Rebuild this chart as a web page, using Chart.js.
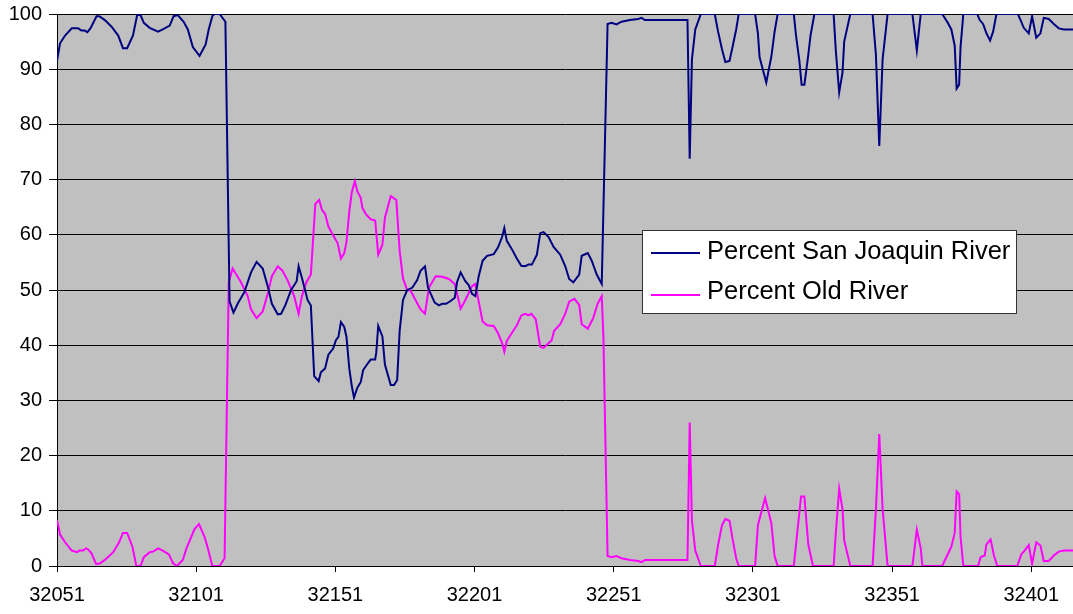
<!DOCTYPE html>
<html>
<head>
<meta charset="utf-8">
<script src="https://cdn.jsdelivr.net/npm/chart.js@4.4.1/dist/chart.umd.min.js"></script>
<style>
  html, body { margin: 0; padding: 0; background: #fff; }
  canvas { display: block; }
</style>
</head>
<body>
<canvas id="flowChart" width="1073" height="614"></canvas>
<script>
// tick values on the x axis (day numbers)
const xTicks = [32051, 32101, 32151, 32201, 32251, 32301, 32351, 32401];

// Percent San Joaquin River - days and values
const sjDays = [
  32051.0, 32052.1, 32053.9, 32056.3, 32058.6, 32059.8, 32061.0, 32061.9, 32063.0, 32065.2,
  32066.2, 32068.2, 32070.6, 32073.0, 32074.7, 32076.2, 32078.3, 32079.8, 32081.0, 32082.2,
  32084.3, 32087.3, 32089.0, 32091.5, 32092.9, 32094.4, 32096.5, 32098.0, 32099.8, 32102.2,
  32104.4, 32105.5, 32106.8, 32107.5, 32109.4, 32111.5, 32113.0, 32114.4, 32115.9, 32118.3,
  32120.7, 32122.7, 32124.9, 32126.7, 32128.2, 32130.3, 32131.5, 32133.0, 32135.1, 32137.1,
  32137.8, 32139.2, 32141.0, 32142.2, 32143.4, 32145.0, 32145.8, 32147.3, 32148.5, 32150.2,
  32151.2, 32152.1, 32153.0, 32154.2, 32155.0, 32156.0, 32156.9, 32157.7, 32158.9, 32160.1,
  32161.0, 32162.5, 32163.7, 32165.3, 32165.7, 32166.4, 32167.9, 32168.8, 32170.9, 32172.1,
  32173.2, 32174.1, 32175.3, 32176.8, 32178.6, 32180.4, 32181.6, 32183.2, 32184.3, 32186.7,
  32188.2, 32189.4, 32190.8, 32192.4, 32193.9, 32194.7, 32196.0, 32197.7, 32198.9, 32200.1,
  32201.3, 32202.5, 32203.9, 32205.5, 32207.9, 32209.4, 32210.9, 32211.7, 32212.6, 32214.4,
  32216.2, 32217.8, 32219.2, 32220.4, 32221.6, 32223.4, 32224.6, 32225.8, 32227.6, 32229.4,
  32231.8, 32233.6, 32235.0, 32236.5, 32238.6, 32239.5, 32241.7, 32243.1, 32244.9, 32246.7,
  32248.8, 32250.2, 32252.0, 32253.8, 32256.8, 32259.8, 32261.0, 32262.2, 32277.5, 32278.3,
  32279.1, 32280.3, 32282.3, 32287.3, 32288.5, 32289.9, 32291.1, 32292.6, 32293.8, 32295.0,
  32295.9, 32301.8, 32302.8, 32303.4, 32305.8, 32307.6, 32308.8, 32309.9, 32315.7, 32316.5,
  32317.7, 32318.5, 32319.5, 32320.9, 32321.7, 32323.1, 32330.0, 32330.8, 32332.0, 32333.2,
  32333.8, 32336.0, 32344.0, 32345.2, 32346.4, 32347.6, 32349.4, 32358.3, 32359.9, 32361.3,
  32369.0, 32370.8, 32372.3, 32373.5, 32374.2, 32375.1, 32375.6, 32376.6, 32381.6, 32382.5,
  32383.7, 32384.9, 32386.2, 32387.3, 32388.5, 32396.2, 32397.4, 32398.3, 32400.1, 32401.3,
  32402.8, 32404.3, 32405.5, 32407.3, 32409.1, 32410.9, 32412.7, 32416.0
];
const sjPct = [
  91.5, 94.7, 96.1, 97.4, 97.4, 97.0, 97.0, 96.7, 97.4, 99.6,
  99.6, 98.9, 97.7, 96.1, 93.8, 93.8, 96.1, 99.8, 99.8, 98.4,
  97.5, 96.8, 97.2, 97.9, 99.6, 99.8, 98.6, 97.2, 94.0, 92.4,
  94.5, 97.2, 99.6, 100, 100, 98.6, 47.9, 45.9, 47.5, 49.6,
  53.2, 55.1, 53.9, 50.7, 47.5, 45.6, 45.7, 47.2, 50.0, 51.6,
  54.3, 51.8, 48.2, 47.2, 34.4, 33.5, 35.1, 35.8, 38.3, 39.4,
  40.9, 41.5, 44.2, 43.3, 41.5, 35.8, 32.6, 30.5, 32.3, 33.3,
  35.5, 36.6, 37.4, 37.4, 38.7, 43.5, 41.6, 36.5, 32.8, 32.8,
  33.7, 42.6, 48.2, 50.0, 50.4, 51.8, 53.5, 54.3, 50.4, 47.7,
  47.2, 47.5, 47.5, 48.0, 48.6, 51.4, 53.2, 51.6, 50.9, 49.3,
  48.9, 52.5, 55.3, 56.2, 56.5, 57.7, 59.6, 61.2, 58.9, 57.4,
  55.7, 54.4, 54.3, 54.6, 54.6, 56.4, 60.3, 60.5, 59.6, 57.8,
  56.4, 54.3, 52.0, 51.4, 52.8, 56.2, 56.7, 55.3, 52.8, 51.1,
  98.2, 98.4, 98.1, 98.6, 98.9, 99.1, 99.3, 98.9, 98.9, 73.8,
  91.8, 97.2, 100, 100, 96.8, 93.6, 91.3, 91.5, 94.3, 97.2,
  100, 100, 96.5, 92.2, 87.6, 92.2, 96.8, 100, 100, 96.1,
  91.5, 87.2, 87.2, 92.6, 96.1, 100, 100, 93.3, 85.8, 89.4,
  95.0, 100, 100, 92.6, 76.1, 91.8, 100, 100, 93.4, 100,
  100, 98.6, 97.2, 94.3, 86.5, 87.2, 94.0, 100, 100, 98.9,
  98.2, 96.5, 95.2, 96.8, 100, 100, 98.6, 97.5, 96.5, 99.6,
  95.7, 96.5, 99.3, 99.1, 98.2, 97.4, 97.2, 97.2
];

// Percent Old River - days and values
const orDays = [
  32051.0, 32052.1, 32053.9, 32056.3, 32058.3, 32059.0, 32060.4, 32061.4, 32062.2, 32063.4,
  32065.0, 32066.2, 32068.2, 32071.2, 32073.3, 32074.7, 32076.2, 32078.1, 32079.5, 32081.0,
  32082.2, 32084.3, 32085.5, 32087.3, 32089.0, 32091.2, 32092.7, 32094.1, 32096.2, 32097.5,
  32100.4, 32102.0, 32104.0, 32105.2, 32106.8, 32109.4, 32111.2, 32112.7, 32114.1, 32115.4,
  32117.1, 32119.5, 32120.7, 32122.7, 32124.9, 32126.7, 32128.2, 32130.3, 32132.0, 32133.8,
  32136.2, 32137.8, 32139.0, 32140.6, 32142.2, 32143.8, 32145.2, 32146.2, 32147.3, 32148.5,
  32150.2, 32151.8, 32153.0, 32154.2, 32155.0, 32156.0, 32156.9, 32158.0, 32158.9, 32160.1,
  32160.7, 32161.9, 32163.7, 32165.3, 32166.4, 32167.9, 32168.8, 32170.9, 32172.9, 32174.1,
  32175.3, 32176.8, 32178.0, 32179.8, 32181.6, 32183.2, 32184.6, 32187.0, 32189.4, 32191.8,
  32193.9, 32196.0, 32197.7, 32200.1, 32201.3, 32202.5, 32203.9, 32205.5, 32207.9, 32209.4,
  32210.9, 32211.7, 32212.6, 32214.4, 32216.2, 32217.8, 32219.2, 32220.4, 32221.4, 32223.0,
  32224.6, 32225.8, 32228.7, 32229.6, 32231.8, 32233.6, 32235.0, 32236.9, 32238.6, 32239.5,
  32241.7, 32243.7, 32245.2, 32246.7, 32247.3, 32248.8, 32250.2, 32252.0, 32253.8, 32256.8,
  32259.8, 32261.0, 32262.2, 32277.5, 32278.3, 32279.1, 32280.3, 32282.3, 32287.3, 32288.5,
  32289.9, 32291.1, 32292.6, 32293.8, 32295.0, 32295.9, 32301.8, 32302.8, 32305.4, 32307.6,
  32308.8, 32309.9, 32315.7, 32316.5, 32318.3, 32319.5, 32320.9, 32322.6, 32330.0, 32330.8,
  32332.0, 32333.2, 32333.8, 32336.0, 32344.0, 32345.2, 32346.4, 32347.6, 32349.4, 32358.3,
  32359.9, 32361.3, 32361.9, 32369.0, 32370.8, 32372.3, 32373.5, 32374.2, 32375.1, 32375.6,
  32376.6, 32381.9, 32382.8, 32384.3, 32384.9, 32386.4, 32387.6, 32388.8, 32396.0, 32397.4,
  32398.6, 32400.1, 32401.3, 32402.8, 32404.3, 32405.5, 32407.3, 32409.1, 32410.9, 32412.7,
  32416.0
];
const orPct = [
  8.3, 5.7, 4.3, 2.8, 2.5, 2.8, 2.8, 3.2, 3.0, 2.3,
  0.4, 0.4, 1.1, 2.5, 4.3, 6.0, 6.0, 3.5, 0, 0,
  1.6, 2.5, 2.6, 3.2, 2.8, 2.1, 0.5, 0, 1.1, 3.2,
  6.7, 7.6, 5.3, 3.2, 0, 0, 1.4, 51.4, 53.9, 52.8,
  51.4, 48.9, 46.5, 44.9, 46.1, 49.3, 52.5, 54.3, 53.5, 51.8,
  48.9, 45.7, 48.9, 51.4, 52.8, 65.6, 66.3, 64.5, 63.8, 61.5,
  59.9, 58.5, 55.7, 56.7, 58.7, 64.2, 67.7, 69.7, 67.9, 66.7,
  64.9, 63.8, 62.8, 62.6, 56.4, 58.2, 63.1, 67.0, 66.3, 57.1,
  52.1, 50.0, 49.9, 48.2, 46.5, 45.7, 50.4, 52.5, 52.4, 52.0,
  51.1, 46.6, 48.2, 50.7, 51.1, 47.9, 44.3, 43.6, 43.5, 42.2,
  40.4, 38.8, 40.8, 42.2, 43.6, 45.4, 45.7, 45.4, 45.7, 44.7,
  39.7, 39.5, 40.9, 42.6, 43.8, 45.7, 47.9, 48.4, 47.3, 43.8,
  43.0, 45.0, 47.5, 48.9, 41.5, 1.8, 1.6, 1.8, 1.4, 1.1,
  0.9, 0.7, 1.1, 1.1, 26.0, 8.2, 2.8, 0, 0, 3.8,
  7.4, 8.5, 8.2, 4.6, 1.4, 0, 0, 7.4, 12.3, 7.8,
  1.8, 0, 0, 3.9, 12.6, 12.6, 3.9, 0, 0, 6.0,
  14.0, 10.3, 4.6, 0, 0, 10.3, 23.9, 10.3, 0, 0,
  6.6, 3.2, 0, 0, 1.9, 3.5, 6.0, 13.5, 13.0, 5.3,
  0, 0, 1.6, 1.9, 3.9, 4.8, 1.9, 0, 0, 2.1,
  2.8, 3.8, 0.4, 4.3, 3.7, 0.9, 0.9, 1.9, 2.6, 2.8,
  2.8
];

const toPoints = (days, vals) => days.map((d, i) => ({ x: d, y: vals[i] }));
const tickFont = { family: 'Liberation Sans, Arial, sans-serif', size: 20 };

// grey plot area like the spreadsheet chart
const plotBackground = {
  id: 'plotBackground',
  beforeDraw(chart) {
    const { ctx, chartArea: a } = chart;
    ctx.save();
    ctx.fillStyle = '#ffffff';
    ctx.fillRect(0, 0, chart.width, chart.height);
    ctx.fillStyle = '#c0c0c0';
    ctx.fillRect(a.left, a.top, a.right - a.left, a.bottom - a.top);
    ctx.restore();
  }
};

// boxed legend sitting inside the plot
const boxLegend = {
  id: 'boxLegend',
  afterDraw(chart) {
    const ctx = chart.ctx;
    const box = { x: 642, y: 230, w: 374, h: 83 };
    const lineY = [253, 295];
    const textY = [259, 299];
    ctx.save();
    ctx.fillStyle = '#ffffff';
    ctx.fillRect(box.x, box.y, box.w, box.h);
    ctx.strokeStyle = '#333333';
    ctx.lineWidth = 1;
    ctx.strokeRect(box.x + 0.5, box.y + 0.5, box.w, box.h);
    ctx.font = '25.5px "Liberation Sans", Arial, sans-serif';
    ctx.textBaseline = 'alphabetic';
    ctx.fillStyle = '#000000';
    chart.data.datasets.forEach((ds, i) => {
      ctx.strokeStyle = ds.borderColor;
      ctx.lineWidth = 2;
      ctx.beginPath();
      ctx.moveTo(651, lineY[i]);
      ctx.lineTo(700, lineY[i]);
      ctx.stroke();
      ctx.fillText(ds.label, 707, textY[i]);
    });
    ctx.restore();
  }
};

const ctx = document.getElementById('flowChart').getContext('2d');
const flowChart = new Chart(ctx, {
  type: 'line',
  data: {
    datasets: [{
      label: 'Percent San Joaquin River',
      data: toPoints(sjDays, sjPct),
      borderColor: '#000080',
      borderWidth: 2,
      pointRadius: 0,
      tension: 0,
      fill: false
    }, {
      label: 'Percent Old River',
      data: toPoints(orDays, orPct),
      borderColor: '#ff00ff',
      borderWidth: 2,
      pointRadius: 0,
      tension: 0,
      fill: false
    }]
  },
  options: {
    responsive: false,
    animation: false,
    devicePixelRatio: 1,
    layout: { padding: { top: 14, right: 0, bottom: 0, left: 0 } },
    plugins: {
      legend: { display: false },
      tooltip: { enabled: false }
    },
    scales: {
      x: {
        type: 'linear',
        min: 32051,
        max: 32416,
        afterBuildTicks: (scale) => { scale.ticks = xTicks.map(v => ({ value: v })); },
        afterFit: (scale) => { scale.height = 48; scale.paddingLeft = 0; scale.paddingRight = 0; },
        grid: { drawOnChartArea: false, color: '#000000', tickLength: 6 },
        border: { color: '#000000', width: 1 },
        ticks: {
          font: tickFont, color: '#000000', padding: 11, maxRotation: 0, autoSkip: false,
          callback: (v) => String(v)
        }
      },
      y: {
        min: 0,
        max: 100,
        afterFit: (scale) => { scale.width = 57; scale.paddingTop = 0; scale.paddingBottom = 0; },
        grid: { color: '#000000', tickLength: 8 },
        border: { color: '#000000', width: 1 },
        ticks: { stepSize: 10, font: tickFont, color: '#000000', padding: 7 }
      }
    }
  },
  plugins: [plotBackground, boxLegend]
});
</script>
</body>
</html>
